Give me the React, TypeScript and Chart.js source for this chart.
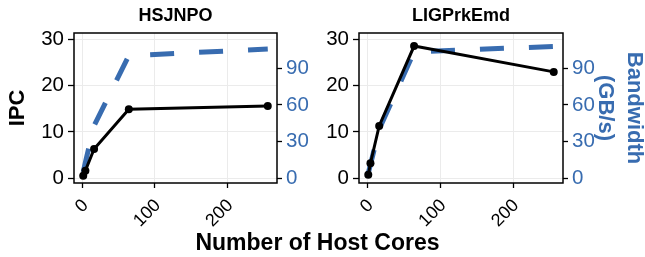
import React, { useEffect, useRef } from 'react';
import { Chart, registerables } from 'chart.js';

Chart.register(...registerables);

const FONT = "'Liberation Sans', Arial, Helvetica, sans-serif";
Chart.defaults.font.family = FONT;

// ---- data ----
const cores = [1, 4, 16, 64, 256];
const hsjnpoIPC = [0.5, 1.6, 6.3, 14.9, 15.6];
const hsjnpoBW = [5, 13, 43, 100.5, 105.9];
const ligprkIPC = [0.7, 3.2, 11.3, 28.6, 23.0];
const ligprkBW = [4, 11, 40, 103.6, 108.1];
const xTicks = [0, 100, 200];
const ipcTicks = [0, 10, 20, 30];
const bwTicks = [0, 30, 60, 90];
const panelTitles = ['HSJNPO', 'LIGPrkEmd'];
const xTitle = 'Number of Host Cores';
const yTitle = 'IPC';
const y2Title = ['Bandwidth', '(GB/s)'];

// axis ranges
const X_MIN = -11.75;
const X_MAX = 268.75;
const Y_MIN = -1.08;
const Y_MAX = 31.43;
const K = 3.79; // bandwidth per IPC unit on secondary axis

const BLUE = '#386CB0';
const Y_TICK_SIZE = 20.5;
const X_TICK_SIZE = 18;

const boxPlugin = {
  id: 'panelBox',
  afterDatasetsDraw(chart: any) {
    const { ctx, chartArea: a } = chart;
    ctx.save();
    ctx.strokeStyle = '#000';
    ctx.lineWidth = 1.5;
    ctx.strokeRect(a.left, a.top, a.right - a.left, a.bottom - a.top);
    ctx.restore();
  },
};

type PanelProps = {
  title: string;
  ipc: number[];
  bw: number[];
  leftW: number;
  rightW: number;
  showY: boolean;
  showY2: boolean;
};

function makeConfig(p: PanelProps): any {
  return {
    type: 'line',
    data: {
      datasets: [
        {
          label: 'IPC',
          data: cores.map((x, i) => ({ x, y: p.ipc[i] })),
          yAxisID: 'y',
          borderColor: '#000',
          backgroundColor: '#000',
          borderWidth: 3,
          pointRadius: 4,
          pointBackgroundColor: '#000',
          pointBorderWidth: 0,
          order: 0,
        },
        {
          label: 'Bandwidth',
          data: cores.map((x, i) => ({ x, y: p.bw[i] })),
          yAxisID: 'y2',
          borderColor: BLUE,
          backgroundColor: BLUE,
          borderWidth: 5,
          borderDash: [24, 25],
          borderCapStyle: 'butt',
          pointRadius: 0,
          order: 1,
        },
      ],
    },
    options: {
      responsive: false,
      animation: false,
      layout: { padding: 0 },
      plugins: {
        legend: { display: false },
        tooltip: { enabled: false },
        title: {
          display: true,
          text: p.title,
          fullSize: false,
          color: '#000',
          font: { size: 18, weight: 'bold', family: FONT, lineHeight: 1.2 },
          padding: { top: 5, bottom: 6.4 },
        },
      },
      scales: {
        x: {
          type: 'linear',
          min: X_MIN,
          max: X_MAX,
          afterBuildTicks: (s: any) => {
            s.ticks = xTicks.map((v) => ({ value: v }));
          },
          afterFit: (s: any) => {
            s.height = 74;
          },
          ticks: {
            minRotation: 45,
            maxRotation: 45,
            color: '#000',
            font: { size: X_TICK_SIZE, family: FONT },
            padding: 7,
            labelOffset: 3,
          },
          grid: { color: '#EBEBEB', lineWidth: 1, tickColor: '#000', tickLength: 5, tickWidth: 1.3 },
          border: { display: false },
        },
        y: {
          type: 'linear',
          position: 'left',
          min: Y_MIN,
          max: Y_MAX,
          afterBuildTicks: (s: any) => {
            s.ticks = ipcTicks.map((v) => ({ value: v }));
          },
          afterFit: (s: any) => {
            s.width = p.leftW;
          },
          ticks: { color: '#000', font: { size: Y_TICK_SIZE, family: FONT }, padding: 4 },
          grid: { color: '#EBEBEB', lineWidth: 1, tickColor: '#000', tickLength: 6, tickWidth: 1.3 },
          border: { display: false },
          title: {
            display: p.showY,
            text: yTitle,
            color: '#000',
            font: { size: 22, weight: 'bold', family: FONT, lineHeight: 1.2 },
            padding: { top: 4.5, bottom: 0 },
          },
        },
        y2: {
          type: 'linear',
          position: 'right',
          min: Y_MIN * K,
          max: Y_MAX * K,
          afterBuildTicks: (s: any) => {
            s.ticks = bwTicks.map((v) => ({ value: v }));
          },
          afterFit: (s: any) => {
            s.width = p.rightW;
          },
          ticks: { color: BLUE, font: { size: Y_TICK_SIZE, family: FONT }, padding: 4 },
          grid: { drawOnChartArea: false, tickColor: '#000', tickLength: 5, tickWidth: 1.3 },
          border: { display: false },
          title: {
            display: p.showY2,
            text: y2Title,
            color: BLUE,
            font: { size: 22, weight: 'bold', family: FONT, lineHeight: 1.3 },
            padding: { top: -3.3, bottom: 0 },
          },
        },
      },
    },
    plugins: [boxPlugin],
  };
}

function Panel({ cfg, left, width }: { cfg: PanelProps; left: number; width: number }) {
  const ref = useRef<HTMLCanvasElement | null>(null);
  useEffect(() => {
    if (!ref.current) return;
    const chart = new Chart(ref.current, makeConfig(cfg));
    return () => chart.destroy();
  }, []);
  return (
    <canvas
      ref={ref}
      width={width}
      height={257}
      style={{ position: 'absolute', left, top: 0, width, height: 257 }}
    />
  );
}

export default function App() {
  return (
    <div
      style={{
        position: 'fixed',
        left: 0,
        top: 0,
        width: 645,
        height: 257,
        background: '#fff',
        overflow: 'hidden',
      }}
    >
      <Panel
        left={0}
        width={320}
        cfg={{ title: panelTitles[0], ipc: hsjnpoIPC, bw: hsjnpoBW, leftW: 74, rightW: 43, showY: true, showY2: false }}
      />
      <Panel
        left={320}
        width={325}
        cfg={{ title: panelTitles[1], ipc: ligprkIPC, bw: ligprkBW, leftW: 39, rightW: 82, showY: false, showY2: true }}
      />
      <div
        style={{
          position: 'absolute',
          left: 317.5,
          top: 230.5,
          transform: 'translateX(-50%)',
          font: `bold 23px ${FONT}`,
          lineHeight: '23px',
          whiteSpace: 'nowrap',
          color: '#000',
        }}
      >
        {xTitle}
      </div>
    </div>
  );
}
